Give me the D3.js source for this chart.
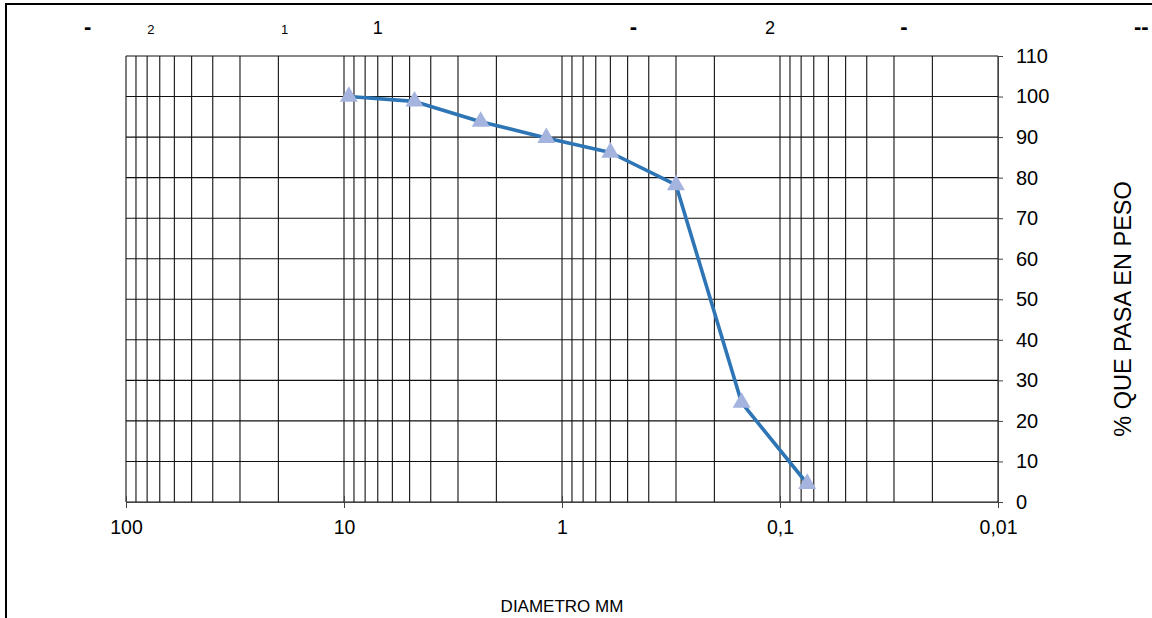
<!DOCTYPE html>
<html>
<head>
<meta charset="utf-8">
<script src="https://cdn.jsdelivr.net/npm/d3@7"></script>
<style>
  body { margin: 0; background: #fff; }
  svg { display: block; font-family: "Liberation Sans", Arial, sans-serif; }
</style>
</head>
<body>
<svg id="chart" width="1152" height="618"></svg>
<script>
// sieve openings (mm) and percent passing
var diameters = [9.5, 4.75, 2.36, 1.18, 0.6, 0.3, 0.15, 0.075];
var passing = [100, 98.8, 93.8, 89.8, 86.2, 78.2, 24.5, 4.5];

var xTicks = [100, 10, 1, 0.1, 0.01];
var xTickLabels = ["100", "10", "1", "0,1", "0,01"];
var yTicks = [0, 10, 20, 30, 40, 50, 60, 70, 80, 90, 100, 110];

// labels along the top, placed by diameter
var topLabels = ["-", "2", "1", "1", "-", "2", "-", "--"];
var topDiams = [150, 77, 18.7, 7.0, 0.47, 0.111, 0.027, 0.0022];
var topBig = [true, false, false, true, true, true, true, true];

(function() {
  var svg = d3.select("#chart");
  var pl = 126, pr = 998, pt = 56, pb = 502;
  var fs = 17, tickFs = 19.5;

  var x = d3.scaleLog().domain([100, 0.01]).range([pl, pr]);
  var y = d3.scaleLinear().domain([0, 110]).range([pb, pt]);

  // outer frame
  svg.append("rect")
    .attr("x", 6).attr("y", 4).attr("width", 1170).attr("height", 640)
    .attr("fill", "none").attr("stroke", "#000").attr("stroke-width", 2);

  // vertical grid (every minor value of each decade)
  var minor = [];
  [0.01, 0.1, 1, 10].forEach(function(dec) {
    for (var k = 1; k <= 9; k++) minor.push(dec * k);
  });
  minor.push(100);

  var grid = svg.append("g").attr("stroke", "#111").attr("stroke-width", 1.1);
  grid.selectAll("line.v").data(minor).enter().append("line")
    .attr("class", "v")
    .attr("x1", function(d){ return x(d); })
    .attr("x2", function(d){ return x(d); })
    .attr("y1", pt).attr("y2", pb);

  grid.selectAll("line.h").data(yTicks).enter().append("line")
    .attr("class", "h")
    .attr("x1", pl).attr("x2", pr)
    .attr("y1", function(d){ return y(d); })
    .attr("y2", function(d){ return y(d); });

  // bottom axis
  var xAxis = d3.axisBottom(x)
    .tickValues(xTicks)
    .tickSize(6)
    .tickFormat(function(d, i){ return xTickLabels[i]; })
    .tickPadding(12);
  var gx = svg.append("g").attr("transform", "translate(0," + pb + ")").call(xAxis);
  gx.select(".domain").attr("stroke", "#444");
  gx.selectAll(".tick line").attr("stroke", "#444").attr("y1", -6);
  gx.selectAll("text").attr("font-size", tickFs).attr("fill", "#000")
    .attr("font-family", "Liberation Sans, Arial, sans-serif");

  // right axis
  var yAxis = d3.axisRight(y).tickValues(yTicks).tickSize(5).tickPadding(13);
  var gy = svg.append("g").attr("transform", "translate(" + pr + ",0)").call(yAxis);
  gy.select(".domain").attr("stroke", "#444");
  gy.selectAll(".tick line").attr("stroke", "#444");
  gy.selectAll("text").attr("font-size", tickFs + 0.5).attr("fill", "#000")
    .attr("font-family", "Liberation Sans, Arial, sans-serif");

  // axis titles
  svg.append("text")
    .attr("x", 562).attr("y", 612)
    .attr("text-anchor", "middle").attr("font-size", fs)
    .text("DIAMETRO MM");

  svg.append("text")
    .attr("transform", "translate(1131,309) rotate(-90)")
    .attr("text-anchor", "middle").attr("font-size", 23.5)
    .text("% QUE PASA EN PESO");

  // top labels
  svg.selectAll("text.top").data(topLabels).enter().append("text")
    .attr("class", "top")
    .attr("x", function(d, i){ return x(topDiams[i]); })
    .attr("y", 34)
    .attr("text-anchor", "middle")
    .attr("font-size", function(d, i){
      if (d.indexOf("-") >= 0) return 22;
      return topBig[i] ? 18 : 13;
    })
    .attr("font-weight", function(d){ return d.indexOf("-") >= 0 ? "bold" : "normal"; })
    .text(function(d){ return d; });

  // curve
  var pts = diameters.map(function(d, i){ return [d, passing[i]]; });
  var line = d3.line()
    .x(function(d){ return x(d[0]); })
    .y(function(d){ return y(d[1]); });

  svg.append("path")
    .datum(pts)
    .attr("d", line)
    .attr("fill", "none")
    .attr("stroke", "#2E75B6")
    .attr("stroke-width", 3.6)
    .attr("stroke-linejoin", "round");

  svg.selectAll("path.mark").data(pts).enter().append("path")
    .attr("class", "mark")
    .attr("d", d3.symbol().type(d3.symbolTriangle).size(140))
    .attr("transform", function(d){ return "translate(" + x(d[0]) + "," + y(d[1]) + ")"; })
    .attr("fill", "#A5B4DE");
})();
</script>
</body>
</html>
